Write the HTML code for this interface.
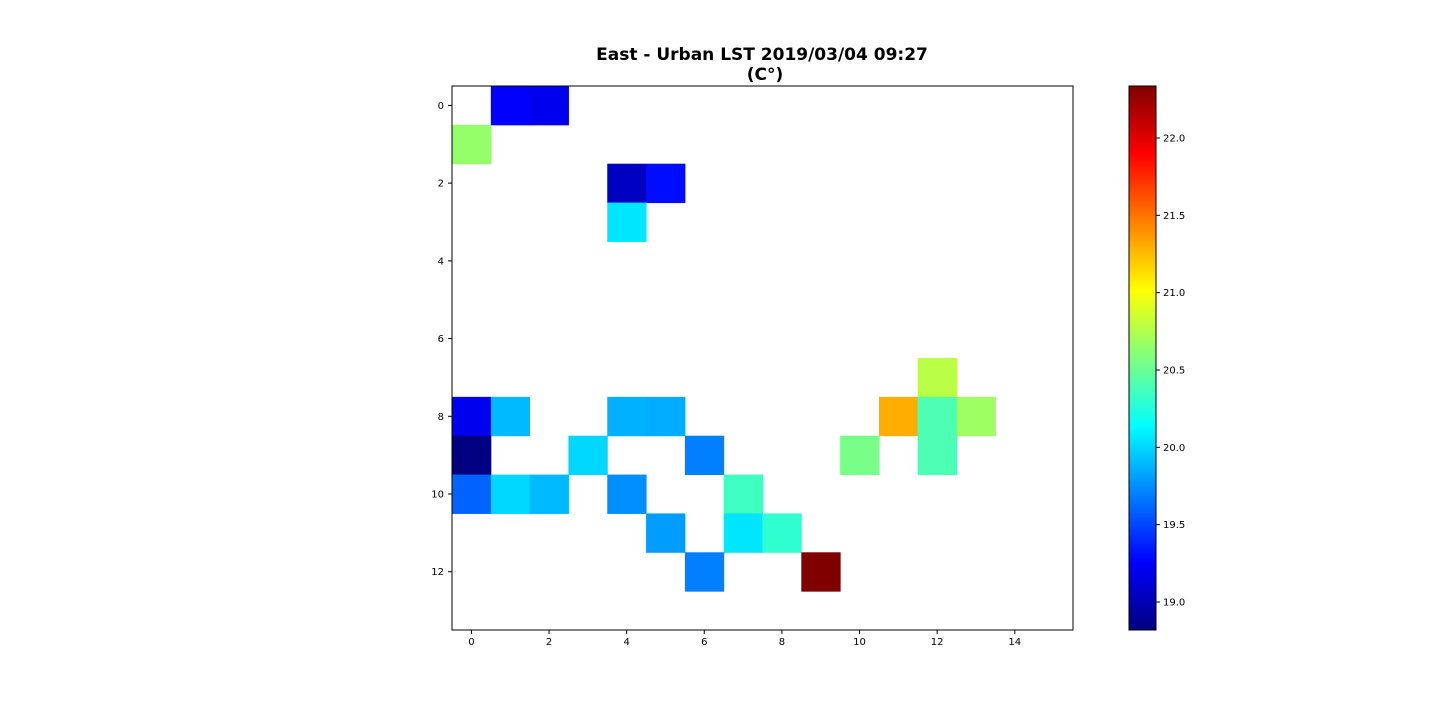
<!DOCTYPE html>
<html><head><meta charset="utf-8"><style>
body{margin:0;background:#fff;font-family:"Liberation Sans","DejaVu Sans",sans-serif;}
svg text{font-family:"DejaVu Sans","Liberation Sans",sans-serif;}
</style></head><body>
<svg id="chart" width="1440" height="720" xmlns="http://www.w3.org/2000/svg">
<text x="762" y="60" text-anchor="middle" font-size="17" font-weight="bold">East - Urban LST 2019/03/04 09:27</text>
<text x="765" y="80" text-anchor="middle" font-size="17" font-weight="bold">(C°)</text>
<g id="cells"></g>
<rect x="452" y="86" width="621" height="544" fill="none" stroke="#000" stroke-width="1"></rect>
<g id="axes"></g>
<defs><linearGradient id="jetgrad" x1="0" y1="1" x2="0" y2="0"></linearGradient></defs>
<rect x="1129" y="86" width="27" height="544" fill="url(#jetgrad)" stroke="#000" stroke-width="1"></rect>
<g id="cbticks"></g>
</svg>
<script>
const cellRows = [0,0,1,2,2,3,7,8,8,8,8,8,8,8,9,9,9,9,9,10,10,10,10,10,11,11,11,12,12];
const cellCols = [1,2,0,4,5,4,12,0,1,4,5,11,12,13,0,3,6,10,12,0,1,2,4,7,5,7,8,6,9];
const cellValues = [19.25,19.2,20.65,19.05,19.3,20.05,20.78,19.2,19.9,19.87,19.85,21.3,20.4,20.68,18.82,20.0,19.7,20.55,20.4,19.6,20.0,19.9,19.75,20.35,19.8,20.05,20.3,19.7,22.34];
const xTicks = [0,2,4,6,8,10,12,14];
const yTicks = [0,2,4,6,8,10,12];
const cbTicks = [19.0,19.5,20.0,20.5,21.0,21.5,22.0];
const vmin = 18.819, vmax = 22.336;
const NS='http://www.w3.org/2000/svg';
const X0=452,Y0=86,CW=621/16,CH=544/14;
const xs=c=>X0+(c+0.5)*CW, ys=r=>Y0+(r+0.5)*CH;
const cbY=v=>630-(v-vmin)/(vmax-vmin)*544;
function jet(t){t=Math.max(0,Math.min(1,t));
 const f=(x)=>Math.max(0,Math.min(1,x));
 const r=f(1.5-Math.abs(4*t-3)),g=f(1.5-Math.abs(4*t-2)),b=f(1.5-Math.abs(4*t-1));
 return `rgb(${Math.round(r*255)},${Math.round(g*255)},${Math.round(b*255)})`;}
function mk(tag,attrs,parent){const e=document.createElementNS(NS,tag);for(const k in attrs)e.setAttribute(k,attrs[k]);parent.appendChild(e);return e;}
const cells=document.getElementById('cells');
cellValues.forEach((v,i)=>{
 const r=mk('rect',{x:xs(cellCols[i])-CW/2,y:ys(cellRows[i])-CH/2,width:CW+0.5,height:CH+0.5,fill:jet((v-vmin)/(vmax-vmin))},cells);
 
 
});
const axes=document.getElementById('axes');
xTicks.forEach(t=>{
 const l=mk('line',{x1:xs(t),x2:xs(t),y1:630,y2:634,stroke:'#000'},axes);
 
 
 const tx=mk('text',{x:xs(t),y:645,'text-anchor':'middle','font-size':10},axes);tx.textContent=t;
 
 
});
yTicks.forEach(t=>{
 const l=mk('line',{x1:448,x2:452,y1:ys(t),y2:ys(t),stroke:'#000'},axes);
 
 
 const tx=mk('text',{x:444,y:ys(t)+3.5,'text-anchor':'end','font-size':10},axes);tx.textContent=t;
 
 
});
const grad=document.getElementById('jetgrad');
for(let i=0;i<=40;i++){mk('stop',{offset:(i/40),'stop-color':jet(i/40)},grad);}
const cbg=document.getElementById('cbticks');
cbTicks.forEach(t=>{
 const l=mk('line',{x1:1156,x2:1160,y1:cbY(t),y2:cbY(t),stroke:'#000'},cbg);
 
 
 const tx=mk('text',{x:1163,y:cbY(t)+3.5,'font-size':10},cbg);tx.textContent=t.toFixed(1);
 
 
});
</script>
</body></html>
